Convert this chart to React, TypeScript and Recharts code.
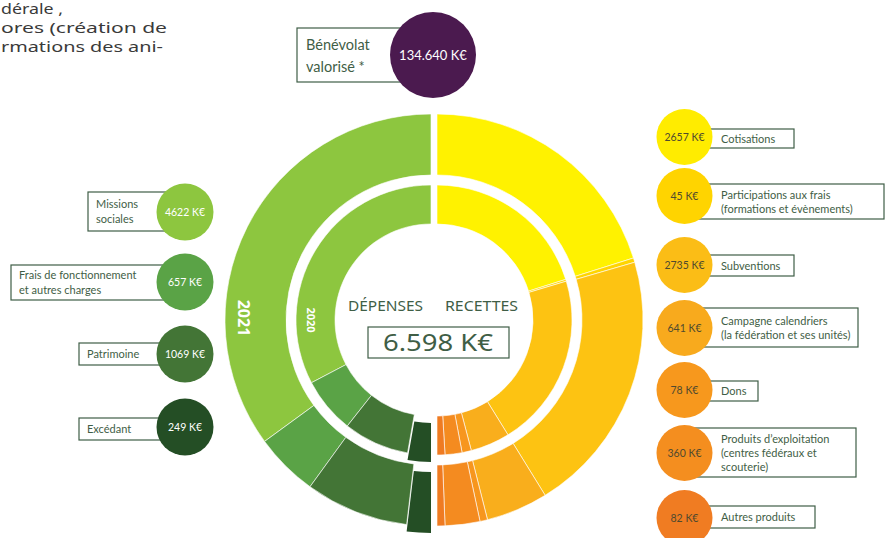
import { PieChart, Pie, Cell } from "recharts";

// Dépenses (K€)
const depenseLabels = ["Missions sociales", "Frais de fonctionnement et autres charges", "Patrimoine", "Excédant"];
const depenseLines = [["Missions", "sociales"], ["Frais de fonctionnement", "et autres charges"], ["Patrimoine"], ["Excédant"]];
const depenses2021 = [4622, 657, 1069, 249];
const depenses2020 = [4314, 880, 1037, 367];

// Recettes (K€)
const recetteLabels = [
  "Cotisations",
  "Participations aux frais",
  "Subventions",
  "Campagne calendriers",
  "Dons",
  "Produits d'exploitation",
  "Autres produits",
];
const recetteLines = [
  ["Cotisations"],
  ["Participations aux frais", " (formations et évènements)"],
  ["Subventions"],
  ["Campagne calendriers", "(la fédération et ses unités)"],
  ["Dons"],
  ["Produits d’exploitation", "(centres fédéraux et", "scouterie)"],
  ["Autres produits"],
];
const recettes2021 = [2657, 45, 2735, 641, 78, 360, 82];
const recettes2020 = [2658, 29, 2750, 623, 147, 268, 125];

const total = "6.598 K€";
const benevolat = "134.640 K€";

const DEP_COLORS = ["#8dc63f", "#5aa346", "#437536", "#244e25"];
const REC_COLORS = ["#fff200", "#ffd500", "#fdc312", "#f9ae1c", "#f7961e", "#f48b20", "#ef7b22"];
const REC_DOT = ["#ffec00", "#ffd400", "#fbbd16", "#f8aa1d", "#f7981d", "#f48e1f", "#f07c22"];

const INK = "#3f5e46";
const FONT = "Lato, 'Open Sans', sans-serif";

const toRows = (labels: string[], values: number[]) => labels.map((name, i) => ({ name, value: values[i] }));

const dep21 = toRows(depenseLabels, depenses2021);
const dep20 = toRows(depenseLabels, depenses2020);
const rec21 = toRows(recetteLabels, recettes2021);
const rec20 = toRows(recetteLabels, recettes2020);

const LAST = depenseLabels.length - 1;

// legend layout
const depLegend = [
  { cy: 212, box: [88, 192, 100, 39] },
  { cy: 282, box: [11, 265, 178, 35] },
  { cy: 354, box: [79, 343, 110, 22] },
  { cy: 427, box: [79, 418, 110, 22] },
];
const recLegend = [
  { cy: 137, box: [690, 129, 104, 19] },
  { cy: 196, box: [690, 184, 194, 35] },
  { cy: 265, box: [690, 255, 104, 21] },
  { cy: 328, box: [690, 308, 168, 39] },
  { cy: 390, box: [690, 381, 68, 20] },
  { cy: 453, box: [690, 428, 166, 49] },
  { cy: 518, box: [690, 506, 125, 22] },
];

function Overlay() {
  return (
    <svg width={885} height={538} style={{ position: "absolute", left: 0, top: 0, pointerEvents: "none" }}>
      {/* paragraph cut off at the top left */}
      <g fontFamily="'Noto Sans', sans-serif" fontSize={15} fill="#3a3a3a">
        <text x={1} y={14} textLength={62} lengthAdjust="spacingAndGlyphs">dérale ,</text>
        <text x={1} y={33} textLength={166} lengthAdjust="spacingAndGlyphs">ores (création de</text>
        <text x={1} y={52} textLength={162} lengthAdjust="spacingAndGlyphs">rmations des ani-</text>
      </g>

      {/* bénévolat */}
      <rect x={297} y={28} width={120} height={54} fill="#fff" stroke={INK} strokeWidth={1.2} />
      <text x={306} y={50} fontFamily={FONT} fontSize={14.5} fill={INK}>Bénévolat</text>
      <text x={306} y={72} fontFamily={FONT} fontSize={14.5} fill={INK}>valorisé *</text>
      <circle cx={433} cy={55} r={43} fill="#4b1a4f" />
      <text x={433} y={60} textAnchor="middle" fontFamily={FONT} fontSize={13} fill="#fff">{benevolat}</text>

      {/* dépenses legend */}
      {depLegend.map((d, i) => {
        const [bx, by, bw, bh] = d.box;
        const lines = depenseLines[i];
        const mid = by + bh / 2;
        return (
          <g key={`d${i}`}>
            <rect x={bx} y={by} width={bw} height={bh} fill="#fff" stroke={INK} strokeWidth={1.2} />
            {lines.map((l, j) => (
              <text key={j} x={bx + 8} y={mid + 4 + (j - (lines.length - 1) / 2) * 14.5} fontFamily={FONT} fontSize={11} fill={INK}>
                {l}
              </text>
            ))}
            <circle cx={185} cy={d.cy} r={28.5} fill={DEP_COLORS[i]} />
            <text x={185} y={d.cy + 4} textAnchor="middle" fontFamily={FONT} fontSize={10.5} fill="#fff">
              {depenses2021[i]} K€
            </text>
          </g>
        );
      })}

      {/* recettes legend */}
      {recLegend.map((d, i) => {
        const [bx, by, bw, bh] = d.box;
        const lines = recetteLines[i];
        const mid = by + bh / 2;
        return (
          <g key={`r${i}`}>
            <rect x={bx} y={by} width={bw} height={bh} fill="#fff" stroke={INK} strokeWidth={1.2} />
            {lines.map((l, j) => (
              <text key={j} x={721} y={mid + 4 + (j - (lines.length - 1) / 2) * 14} fontFamily={FONT} fontSize={11} fill={INK}>
                {l}
              </text>
            ))}
            <circle cx={684.5} cy={d.cy} r={28} fill={REC_DOT[i]} />
            <text x={684.5} y={d.cy + 4} textAnchor="middle" fontFamily={FONT} fontSize={10.5} fill="#4f4a2f">
              {recettes2021[i]} K€
            </text>
          </g>
        );
      })}

      {/* year labels on the rings */}
      <text x={0} y={0} transform="translate(238 318) rotate(90)" textAnchor="middle" fontFamily="'Open Sans', sans-serif" fontWeight={700} fontSize={16} fill="#fff">
        2021
      </text>
      <text x={0} y={0} transform="translate(307 320) rotate(90)" textAnchor="middle" fontFamily="'Open Sans', sans-serif" fontWeight={700} fontSize={11} fill="#fff">
        2020
      </text>

      {/* centre */}
      <text x={348} y={311} fontFamily="'Noto Sans', sans-serif" fontSize={15} fill={INK} textLength={75} lengthAdjust="spacingAndGlyphs">DÉPENSES</text>
      <text x={445} y={311} fontFamily="'Noto Sans', sans-serif" fontSize={15} fill={INK} textLength={73} lengthAdjust="spacingAndGlyphs">RECETTES</text>
      <rect x={368} y={327} width={141} height={31} fill="#fff" stroke={INK} strokeWidth={1.2} />
      <text x={438} y={351} textAnchor="middle" fontFamily="'Noto Sans', sans-serif" fontSize={24} fill={INK} textLength={110} lengthAdjust="spacingAndGlyphs">
        {total}
      </text>
    </svg>
  );
}

export default function App() {
  const ring = { stroke: "#fff", strokeWidth: 0.6, isAnimationActive: false, dataKey: "value", nameKey: "name" };
  return (
    <div style={{ position: "absolute", left: 0, top: 0, width: 885, height: 538, background: "#fff", overflow: "hidden" }}>
      <PieChart width={885} height={538} margin={{ top: 0, right: 0, bottom: 0, left: 0 }}>
        {/* dépenses 2021 (outer) */}
        <Pie {...ring} data={dep21} cx={431} cy={320} innerRadius={145} outerRadius={206} startAngle={90} endAngle={270}>
          {dep21.map((_, i) => (
            <Cell key={i} fill={i === LAST ? "transparent" : DEP_COLORS[i]} stroke={i === LAST ? "none" : "#fff"} />
          ))}
        </Pie>
        <Pie {...ring} data={dep21} cx={431} cy={327} innerRadius={145} outerRadius={206} startAngle={90} endAngle={270}>
          {dep21.map((_, i) => (
            <Cell key={i} fill={i === LAST ? DEP_COLORS[i] : "transparent"} stroke="none" />
          ))}
        </Pie>
        {/* dépenses 2020 (inner) */}
        <Pie {...ring} data={dep20} cx={431} cy={320} innerRadius={96} outerRadius={135} startAngle={90} endAngle={270}>
          {dep20.map((_, i) => (
            <Cell key={i} fill={i === LAST ? "transparent" : DEP_COLORS[i]} stroke={i === LAST ? "none" : "#fff"} />
          ))}
        </Pie>
        <Pie {...ring} data={dep20} cx={431} cy={327} innerRadius={96} outerRadius={135} startAngle={90} endAngle={270}>
          {dep20.map((_, i) => (
            <Cell key={i} fill={i === LAST ? DEP_COLORS[i] : "transparent"} stroke="none" />
          ))}
        </Pie>
        {/* recettes 2021 (outer) */}
        <Pie {...ring} data={rec21} cx={437} cy={320} innerRadius={145} outerRadius={206} startAngle={90} endAngle={-90}>
          {rec21.map((_, i) => (
            <Cell key={i} fill={REC_COLORS[i]} />
          ))}
        </Pie>
        {/* recettes 2020 (inner) */}
        <Pie {...ring} data={rec20} cx={437} cy={320} innerRadius={96} outerRadius={135} startAngle={90} endAngle={-90}>
          {rec20.map((_, i) => (
            <Cell key={i} fill={REC_COLORS[i]} />
          ))}
        </Pie>
      </PieChart>
      <Overlay />
    </div>
  );
}
